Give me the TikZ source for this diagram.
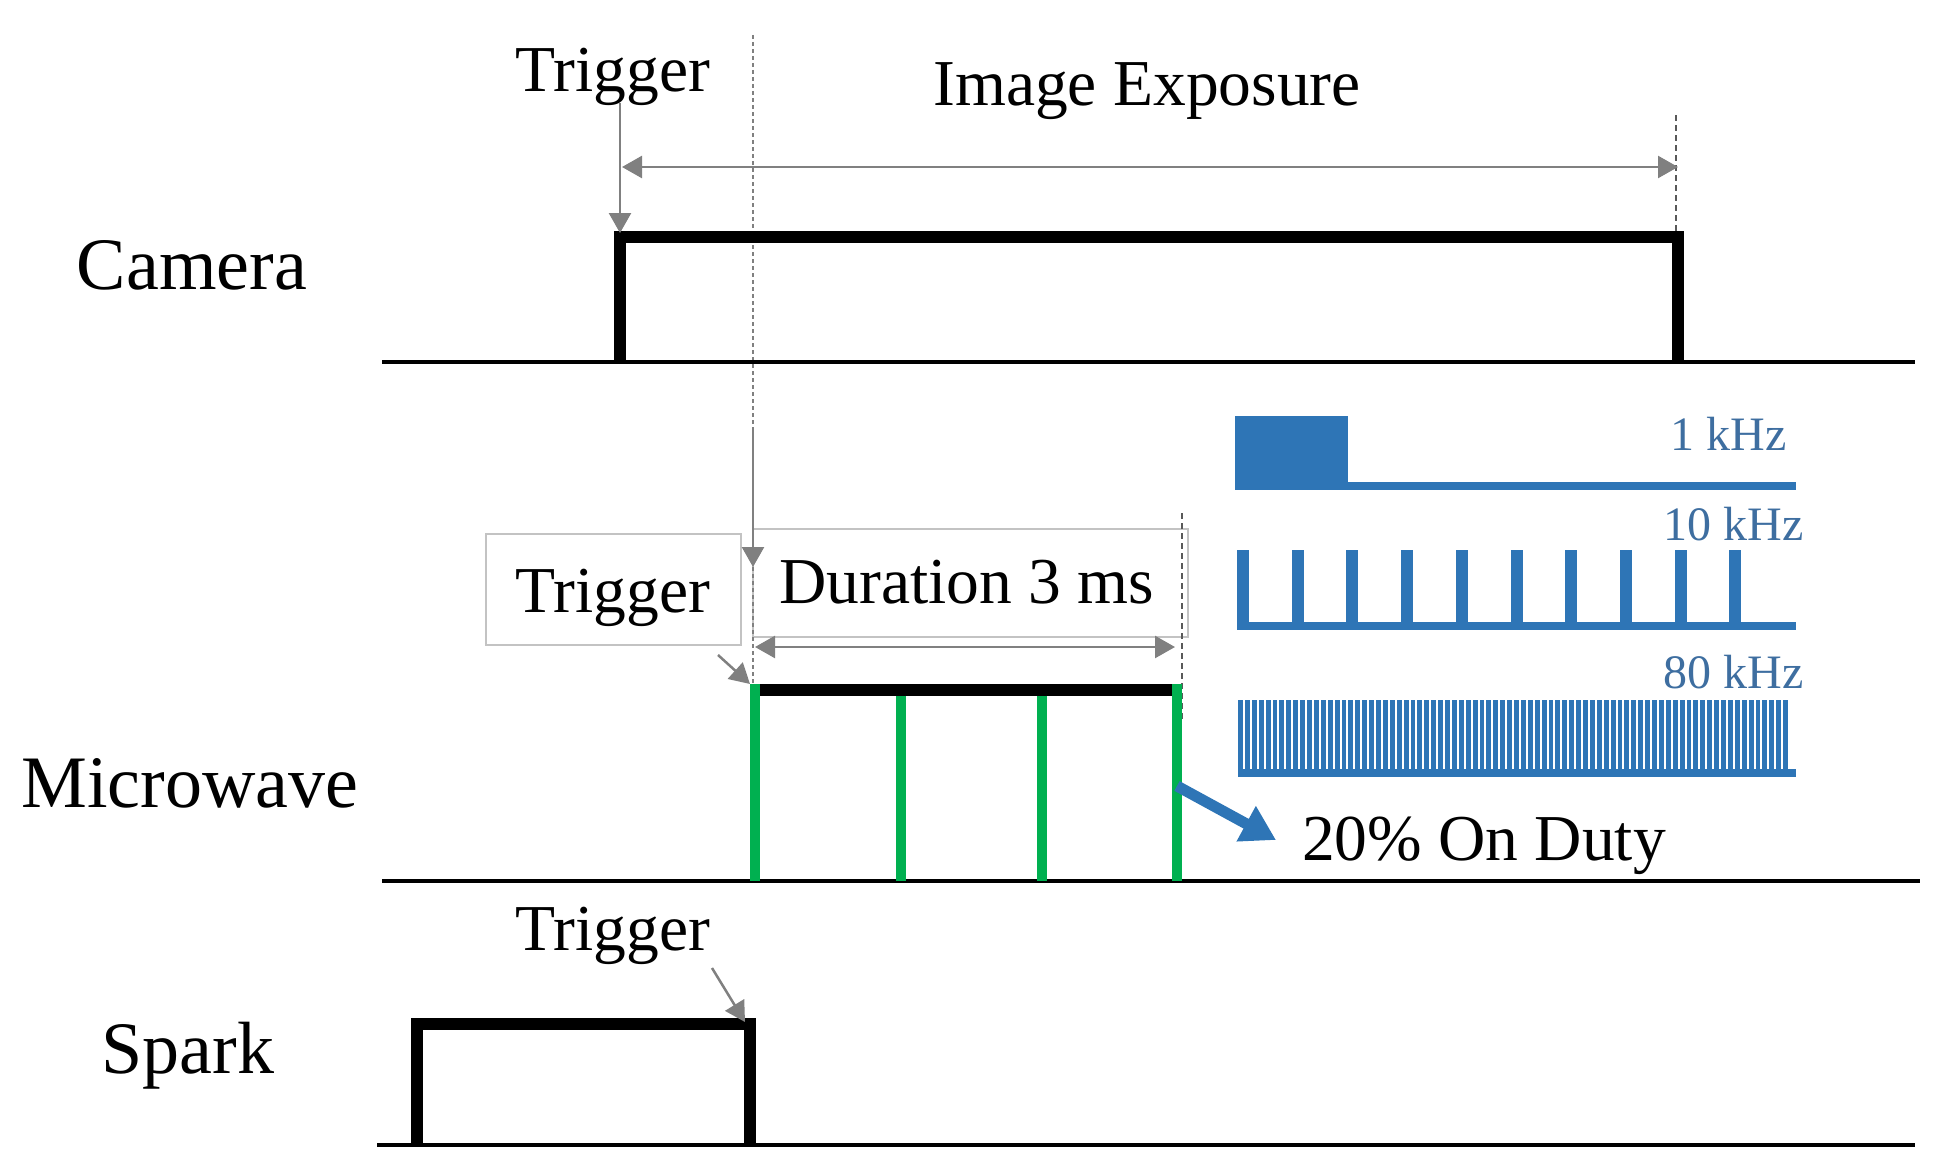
\documentclass[tikz,border=0pt]{standalone}
\usepackage{fontspec}
\setmainfont{Liberation Serif}
\usetikzlibrary{arrows.meta}
\definecolor{gblue}{RGB}{46,117,182}
\definecolor{tblue}{RGB}{62,110,160}
\definecolor{ggreen}{RGB}{0,176,80}
\definecolor{agray}{RGB}{128,128,128}
\definecolor{bgray}{RGB}{195,195,195}
\begin{document}
\begin{tikzpicture}[x=1pt,y=-1pt,
  big/.style={font=\fontsize{74}{80}\selectfont, inner sep=0pt},
  mid/.style={font=\fontsize{65.5}{70}\selectfont, inner sep=0pt},
  small/.style={font=\fontsize{48}{52}\selectfont, inner sep=0pt, text=tblue},
  baseln/.style={line width=4.5pt, black},
  pulse/.style={line width=12pt, black, line join=miter},
  grn/.style={line width=10pt, ggreen},
  garrow/.style={draw=agray, line width=2.5pt, -{Triangle[length=20pt,width=22pt]}},
  gdarrow/.style={draw=agray, line width=2.5pt, {Triangle[length=20pt,width=22pt]}-{Triangle[length=20pt,width=22pt]}},
  dotl/.style={draw=agray, line width=2.5pt, dash pattern=on 4pt off 3pt},
  dashl/.style={draw=black!65, line width=1.8pt, dash pattern=on 6pt off 4pt},
  gbox/.style={draw=bgray, line width=2pt, inner sep=0pt},
  barrow/.style={draw=gblue, line width=11pt, -{Triangle[length=34pt,width=38pt]}},
  wave/.style={fill=gblue}
]
\useasboundingbox (0,0) rectangle (1952,1164);

% ---------- labels ----------
\node[big, anchor=base] (cam) at (192,289) {Camera};
\node[big, anchor=base] (mw) at (190,807) {Microwave};
\node[big, anchor=base] (spk) at (188,1073) {Spark};

\node[mid, anchor=base] (trig1) at (613,92) {Trigger};
\node[mid, anchor=base] (expo) at (1147,106) {Image Exposure};
\node[mid, anchor=base] (trig3) at (613,950) {Trigger};
\node[mid, anchor=base] (duty) at (1484,860) {20\% On Duty};

% boxes
\node[gbox, minimum width=255pt, minimum height=111pt] (trigbox) at (613.5,589.5) {};
\node[mid, anchor=base] (trig2) at (613,612) {Trigger};
\node[gbox, minimum width=435pt, minimum height=108pt] (durbox) at (970.5,583) {};
\node[mid, anchor=base] (dur) at (967,603) {Duration 3 ms};

% ---------- coordinates ----------
\coordinate (camL) at (620,237);
\coordinate (camR) at (1678,237);
\coordinate (trigTop) at (620,103);
\coordinate (trigTip) at (620,233);
\coordinate (expL) at (622,167);
\coordinate (expR) at (1678,167);
\coordinate (dashTop) at (1676,115);
\coordinate (dashBot) at (1676,232);
\coordinate (dotTop) at (753,35);
\coordinate (dotMid) at (753,430);
\coordinate (dotTip) at (753,567);
\coordinate (dotBot) at (753,683);
\coordinate (mwL) at (755,690);
\coordinate (mwR) at (1177,690);
\coordinate (durL) at (755,647);
\coordinate (durR) at (1175,647);
\coordinate (dash2Top) at (1182,513);
\coordinate (dash2Bot) at (1182,720);
\coordinate (mtFrom) at (718,655);
\coordinate (mtTip) at (750,684);
\coordinate (stFrom) at (712,968);
\coordinate (stTip) at (745,1022);
\coordinate (bFrom) at (1177,786);
\coordinate (bTip) at (1276,840);

% ---------- guide lines ----------
\draw[dotl] (dotTop) -- (dotMid);
\draw[dotl] (dotTip) -- (dotBot);
\draw[dashl] (dashTop) -- (dashBot);
\draw[dashl] (dash2Top) -- (dash2Bot);

% ---------- baselines ----------
\draw[baseln] (382,362) -- (1915,362);
\draw[baseln] (382,881) -- (1920,881);
\draw[baseln] (377,1145) -- (1915,1145);

% ---------- camera pulse ----------
\draw[pulse] (620,362) -- (camL) -- (camR) -- (1678,362);

% ---------- microwave pulse ----------
\draw[line width=12pt, black] (mwL) -- (mwR);
\draw[grn] (755,684) -- (755,881);
\draw[grn] (901,696) -- (901,881);
\draw[grn] (1042,696) -- (1042,881);
\draw[grn] (1177,684) -- (1177,881);

% ---------- spark pulse ----------
\draw[pulse] (417,1145) -- (417,1024) -- (750,1024) -- (750,1145);

% ---------- arrows ----------
\draw[garrow] (trigTop) -- (trigTip);
\draw[gdarrow] (expL) -- (expR);
\draw[garrow] (dotMid) -- (dotTip);
\draw[gdarrow] (durL) -- (durR);
\draw[garrow] (mtFrom) -- (mtTip);
\draw[garrow] (stFrom) -- (stTip);
\draw[barrow] (bFrom) -- (bTip);

% ---------- frequency waveforms ----------
\node[small, anchor=base east] (k1) at (1787,450) {1 kHz};
\fill[wave] (1235,416) rectangle (1348,490);
\fill[wave] (1235,482) rectangle (1796,490);

\node[small, anchor=base east] (k10) at (1804,540) {10 kHz};
\foreach \i in {0,...,9} {\fill[wave] ({1237+\i*54.7},550) rectangle ++(12,80);}
\fill[wave] (1237,622) rectangle (1796,630);

\node[small, anchor=base east] (k80) at (1804,688) {80 kHz};
\foreach \i in {0,...,79} {\fill[wave] ({1238+\i*6.9},700) rectangle ++(4.9,75);}
\fill[wave] (1238,769) rectangle (1796,777);
\end{tikzpicture}
\end{document}
